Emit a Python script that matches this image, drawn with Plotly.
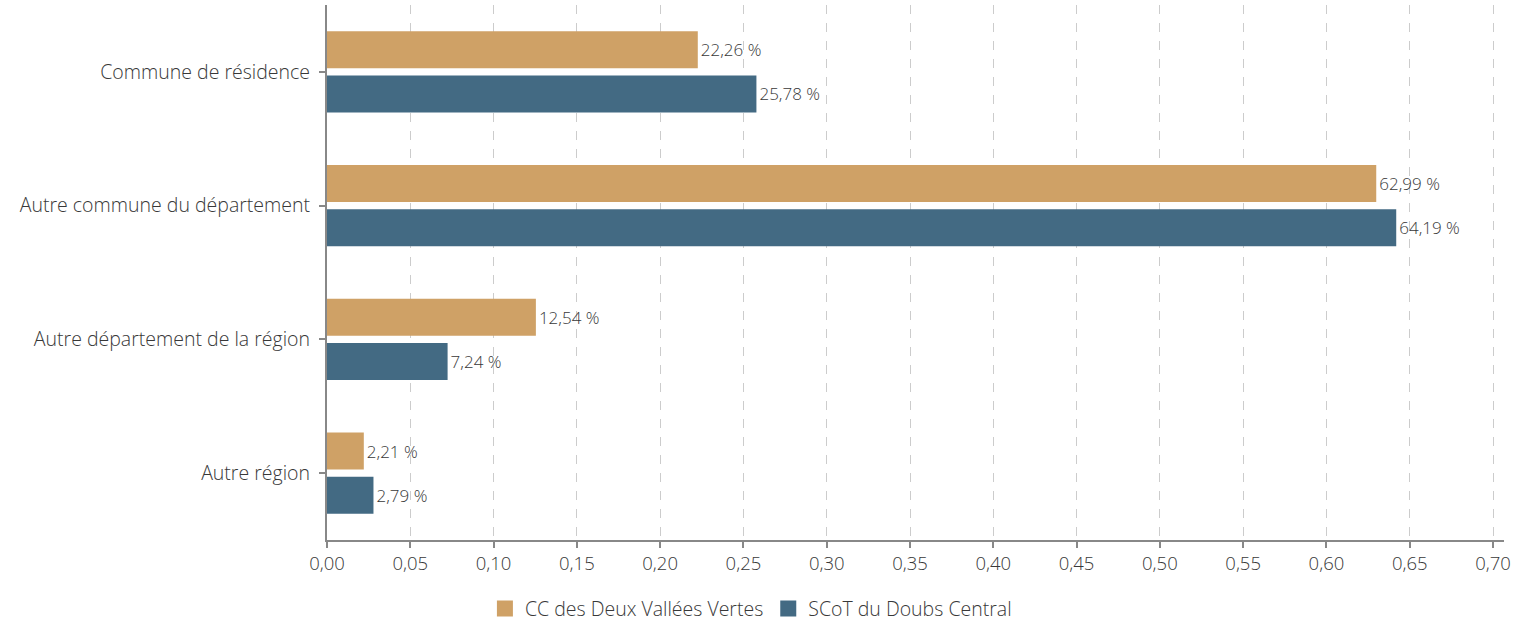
import plotly.graph_objects as go

categories = ["Commune de résidence", "Autre commune du département",
              "Autre département de la région", "Autre région"]
cc_values = [0.2226, 0.6299, 0.1254, 0.0221]
scot_values = [0.2578, 0.6419, 0.0724, 0.0279]
series_names = ["CC des Deux Vallées Vertes", "SCoT du Doubs Central"]
colors = ["#CFA166", "#436A83"]
tick_vals = [i * 0.05 for i in range(15)]

FONT = "Open Sans, Noto Sans, sans-serif"
TXT = "#383838"
W = 300

fig = go.Figure()
for name, vals, col in zip(series_names, [cc_values, scot_values], colors):
    fig.add_trace(go.Bar(
        y=categories, x=vals, name=name, orientation="h",
        marker=dict(color=col, line=dict(width=0)),
        text=[f"{v*100:.2f} %".replace(".", ",") for v in vals],
        textposition="outside", cliponaxis=False, constraintext="none",
        textfont=dict(family=FONT, size=17, color=TXT, weight=W),
        showlegend=False,
    ))
    # legend-only entry with a larger square swatch
    fig.add_trace(go.Scatter(
        x=[None], y=[None], mode="markers", name=name,
        marker=dict(symbol="square", size=20, color=col),
        showlegend=True,
    ))

fig.update_layout(
    width=1517, height=628,
    margin=dict(l=327, r=13, t=5, b=88, autoexpand=False),
    plot_bgcolor="white", paper_bgcolor="white",
    barmode="group", bargap=0.34, bargroupgap=0.16,
    separators=", ",
    font=dict(family=FONT, size=18, color=TXT, weight=W),
    showlegend=True,
    legend=dict(orientation="h", xref="container", x=0.495, xanchor="center",
                y=-0.092, yanchor="top",
                font=dict(family=FONT, size=19.5, color=TXT, weight=W),
                traceorder="normal", itemwidth=30),
    xaxis=dict(range=[0, 0.7066], tickvals=tick_vals, tickformat=".2f",
               showgrid=True, gridcolor="#CCCCCC", griddash="dash", gridwidth=1,
               showline=True, linecolor="#888888", linewidth=2,
               ticks="outside", tickcolor="#888888", ticklen=6, tickwidth=2,
               zeroline=False, tickfont=dict(size=18.5, weight=W), automargin=False),
    yaxis=dict(autorange="reversed", showline=True, linecolor="#888888", linewidth=2,
               ticks="outside", tickcolor="#888888", ticklen=6, tickwidth=2,
               showgrid=False, ticksuffix=" ", tickfont=dict(size=19.5, weight=W),
               automargin=False),
)

fig.write_html("out.html", config={"displayModeBar": False},
               post_script="document.body.style.margin='0';document.body.style.padding='0';")
